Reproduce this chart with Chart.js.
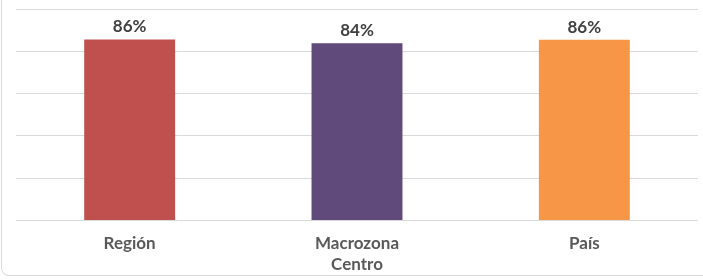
<!DOCTYPE html>
<html>
<head>
<meta charset="utf-8">
<script src="https://cdn.jsdelivr.net/npm/chart.js@4"></script>
<style>
  html, body { margin: 0; padding: 0; background: #fff; }
  #wrap { position: relative; width: 703px; height: 280px; overflow: hidden; }
  #frame {
    position: absolute; left: 1px; top: -20px; width: 760px; height: 296px;
    border: 1px solid #d9d9d9; border-radius: 8px; box-sizing: border-box;
  }
  canvas { position: absolute; left: 0; top: 0; }
</style>
</head>
<body>
<div id="wrap">
  <div id="frame"></div>
  <canvas id="chart" width="703" height="280"></canvas>
</div>
<script>
// data
const categories = [['Región'], ['Macrozona', 'Centro'], ['País']];
const values = [85.6, 83.8, 85.5];
const barColors = ['#C0504D', '#604A7B', '#F79646'];

const fontFamily = 'Lato, "Open Sans", sans-serif';

// draw the percentage above each bar
const valueLabels = {
  id: 'valueLabels',
  afterDatasetsDraw(chart) {
    const ctx = chart.ctx;
    const meta = chart.getDatasetMeta(0);
    ctx.save();
    ctx.font = 'bold 17px ' + fontFamily;
    ctx.fillStyle = '#404040';
    ctx.textAlign = 'center';
    ctx.textBaseline = 'bottom';
    meta.data.forEach((bar, i) => {
      ctx.fillText(Math.round(values[i]) + '%', bar.x, bar.y - 4);
    });
    ctx.restore();
  }
};

const ctx = document.getElementById('chart').getContext('2d');
new Chart(ctx, {
  type: 'bar',
  data: {
    labels: categories,
    datasets: [{
      data: values,
      backgroundColor: barColors,
      borderWidth: 0,
      categoryPercentage: 1,
      barPercentage: 0.4
    }]
  },
  options: {
    responsive: false,
    animation: false,
    layout: { padding: { left: 16, right: 5, top: 9, bottom: 0 } },
    plugins: {
      legend: { display: false },
      tooltip: { enabled: false }
    },
    scales: {
      x: {
        grid: { display: false },
        border: { display: false },
        ticks: {
          color: '#595959',
          font: { family: fontFamily, size: 17, weight: 'bold', lineHeight: 1.25 },
          padding: 4.5,
          maxRotation: 0
        }
      },
      y: {
        min: 0,
        max: 100,
        grid: { color: '#d9d9d9', lineWidth: 1, drawTicks: false },
        border: { display: false },
        ticks: { display: false, stepSize: 20 }
      }
    }
  },
  plugins: [valueLabels]
});
</script>
</body>
</html>
